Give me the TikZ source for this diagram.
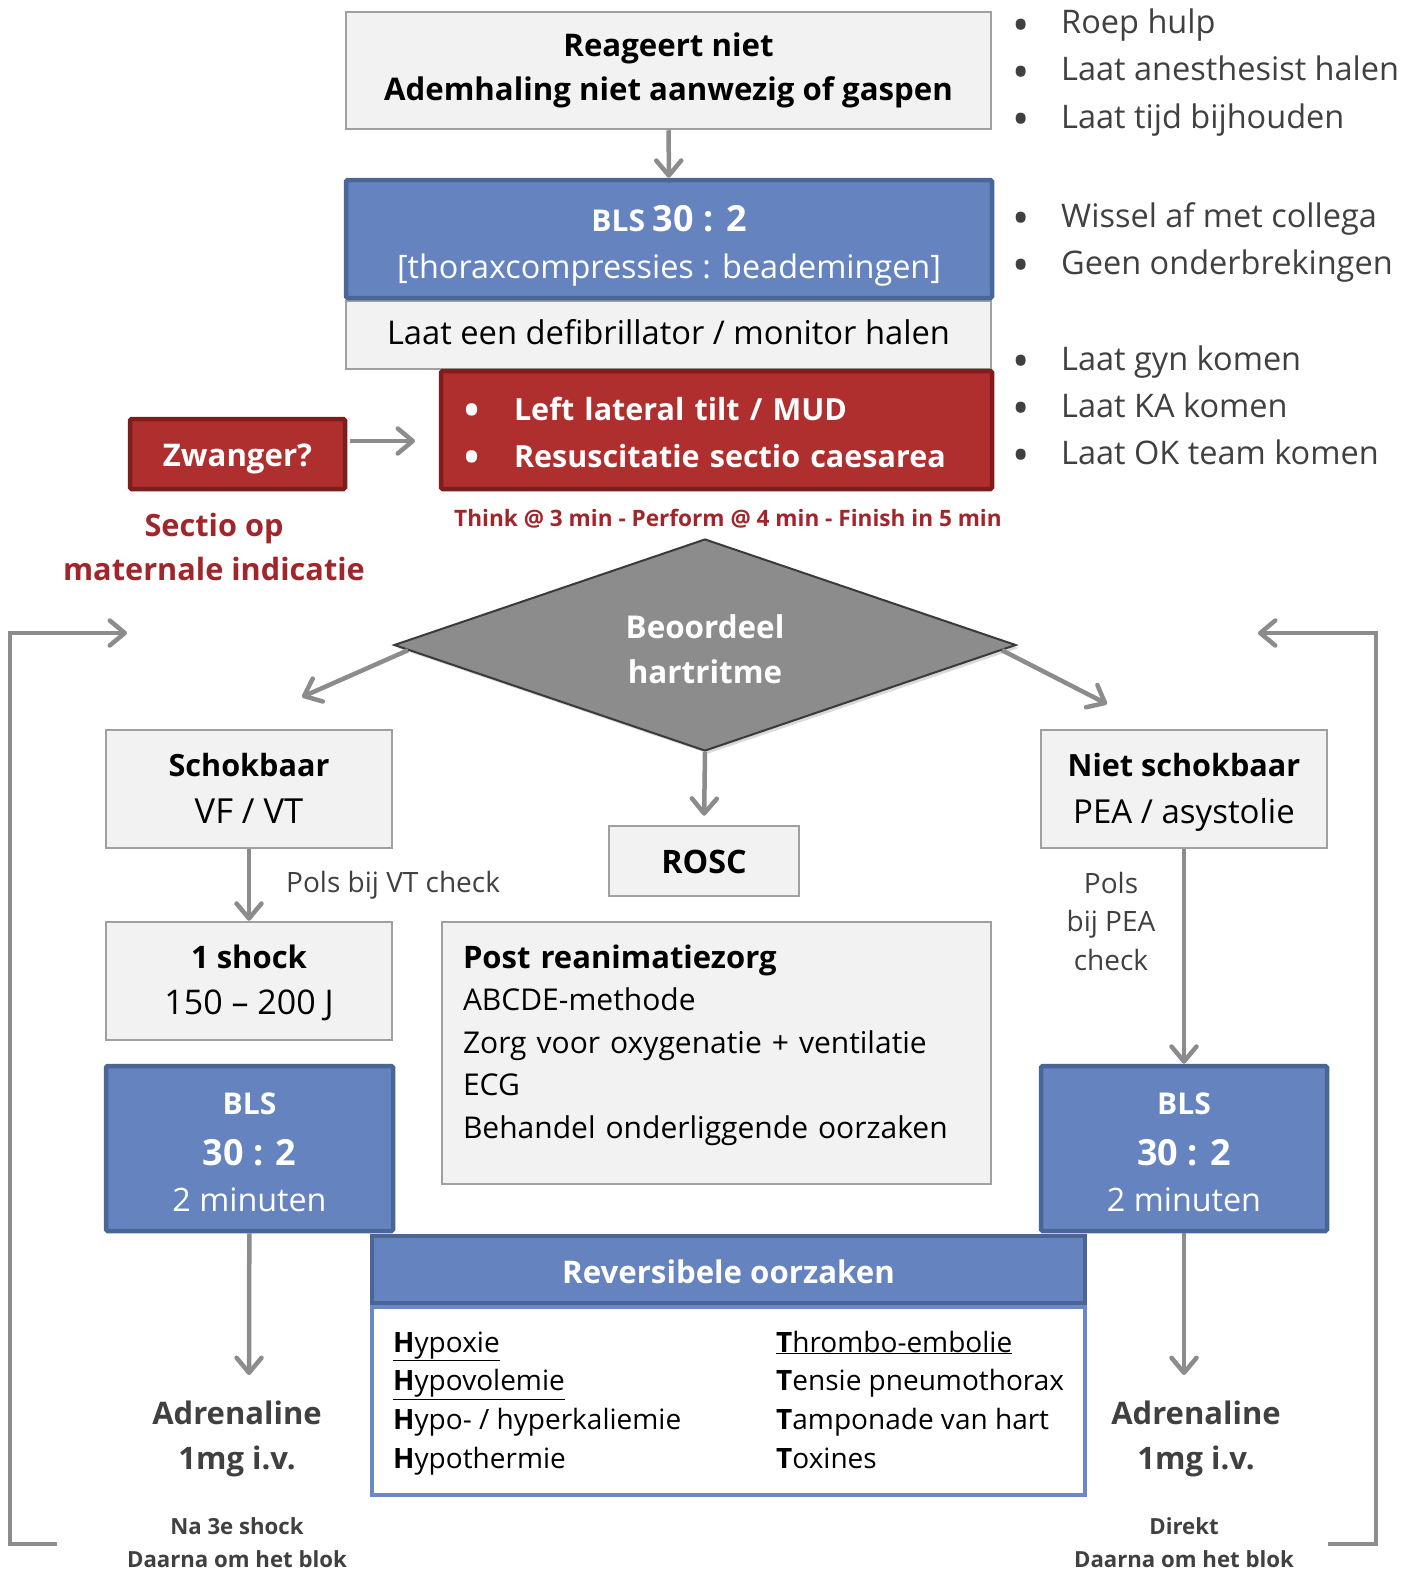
\documentclass[tikz,border=0pt]{standalone}
\usepackage{fontspec}
\setmainfont{Open Sans}
\usetikzlibrary{arrows.meta,shapes.geometric,shadows}

\definecolor{boxfill}{HTML}{F2F2F2}
\definecolor{boxline}{HTML}{A0A0A0}
\definecolor{bluefill}{HTML}{6583BF}
\definecolor{blueline}{HTML}{4A6597}
\definecolor{redfill}{HTML}{AF2E2E}
\definecolor{redline}{HTML}{7F1D1D}
\definecolor{darkred}{HTML}{A1262B}
\definecolor{arrowgray}{HTML}{8C8C8C}
\definecolor{txtgray}{HTML}{404040}
\definecolor{diafill}{HTML}{8C8C8C}
\definecolor{dialine}{HTML}{3A3A3A}
\definecolor{revline}{HTML}{6A88C4}

\newcommand{\fsz}[2]{\fontsize{#1}{#2}\selectfont}
% struts: top height / bottom depth
\newcommand{\tS}[1]{\rule{0pt}{#1pt}}
\newcommand{\bS}[1]{\rule[-#1pt]{0pt}{#1pt}}
\newcommand{\bigbul}{\raisebox{-7.5pt}{\fontsize{46}{46}\selectfont\textbullet}}
\newcommand{\redbul}{\raisebox{-4pt}{\fontsize{40}{40}\selectfont\textbullet}}
\newcommand{\mybul}[2]{\makebox[#1][r]{\redbul\hspace{#2}}}

\begin{document}
\begin{tikzpicture}[x=1pt,y=-1pt,
  graybox/.style={draw=boxline, fill=boxfill, line width=2.5pt, inner sep=0pt, align=center, text=black},
  bluebox/.style={draw=blueline, fill=bluefill, line width=4.5pt, rounded corners=1.5pt, inner sep=0pt, align=center, text=white},
  redbox/.style={draw=redline, fill=redfill, line width=4.5pt, rounded corners=1.5pt, inner sep=0pt, align=center, text=white},
  conn/.style={draw=arrowgray, line width=4.5pt, -{Straight Barb[length=15pt,width=25pt,round]}},
  note/.style={text=txtgray, inner sep=0pt},
  blist/.style={note, anchor=base west, font=\fsz{32.5}{36}},
]
\useasboundingbox (0,0) rectangle (1416,1571);

% ---------- top part ----------
\node[graybox, minimum width=645pt, minimum height=117pt, font=\fsz{31.2}{43.5}\bfseries] (react) at (668.5,70.5)
  {\tS{28}Reageert niet\\Ademhaling niet aanwezig of gaspen\bS{12}};
\node[graybox, minimum width=645pt, minimum height=68pt, font=\fsz{32.7}{36}] (defib) at (668.5,335)
  {\tS{31}Laat een defibrillator / monitor halen\bS{12}};
\node[bluebox, minimum width=646pt, minimum height=118pt, font=\fsz{32.4}{47}] (bls) at (669,239)
  {\tS{44}{\bfseries\fontsize{30}{47}\selectfont BLS \fontsize{36}{47}\selectfont 30 : 2}\\{[}thoraxcompressies : beademingen{]}\bS{12}};
\node[redbox, minimum width=551pt, minimum height=118pt, text width=531pt, inner xsep=10pt, align=left, font=\fsz{30.5}{47}\bfseries] (tilt) at (716.5,430)
  {\tS{39}\mybul{63pt}{34pt}Left lateral tilt / MUD\\\mybul{63pt}{34pt}Resuscitatie sectio caesarea\bS{12}};
\node[redbox, minimum width=215pt, minimum height=70pt, font=\fsz{31.2}{36}\bfseries] (zw) at (237.5,454) {\tS{37}Zwanger?\bS{12}};

\coordinate (zwa) at (350,441);
\coordinate (zwb) at (415,441);
\draw[conn] (zwa) -- (zwb);
\draw[conn] (react) -- (bls);

\node[text=darkred, align=center, inner sep=0pt, font=\fsz{30.7}{44}\bfseries] (sectio) at (214,547) {Sectio op\\maternale indicatie};
\node[text=darkred, inner sep=0pt, font=\fsz{22.6}{26}\bfseries] (think) at (728,519) {Think @ 3 min - Perform @ 4 min - Finish in 5 min};

% right bullet lists
\foreach \txt/\yy [count=\i] in {Roep hulp/34, Laat anesthesist halen/81, Laat tijd bijhouden/128,
    Wissel af met collega/227, Geen onderbrekingen/274,
    Laat gyn komen/370, Laat KA komen/417, Laat OK team komen/464}
  \node[blist] (bul\i) at (1061,\yy) {\llap{\bigbul\hspace{31pt}}\txt};

% ---------- decision ----------
\node[diamond, aspect=2.9, draw=dialine, fill=diafill, line width=2pt, minimum width=622pt, minimum height=212pt,
      inner sep=0pt, text=white, align=center, font=\fsz{31.4}{45}\bfseries,
      drop shadow={shadow xshift=3pt, shadow yshift=-3pt, opacity=0.3}] (dia) at (705,645) {\tS{43}Beoordeel\\hartritme\bS{12}};

\node[graybox, minimum width=286pt, minimum height=118pt, font=\fsz{30.6}{46.3}] (schok) at (249,789)
  {\tS{34}\textbf{Schokbaar}\\{\fontsize{34.5}{46.3}\selectfont VF / VT}\bS{12}};
\node[graybox, minimum width=190pt, minimum height=70pt, font=\fsz{32.3}{36}\bfseries] (rosc) at (704,861) {\tS{36}ROSC\bS{12}};
\node[graybox, minimum width=286pt, minimum height=118pt, font=\fsz{30.6}{46.3}] (niet) at (1184,789)
  {\tS{34}\textbf{Niet schokbaar}\\{\fontsize{33}{46.3}\selectfont PEA / asystolie}\bS{12}};

\coordinate (dLtip) at (302,697);
\coordinate (dRtip) at (1107,704);
\draw[conn] (dia.181.5) -- (dLtip);
\draw[conn] (dia.359) -- (dRtip);
\draw[conn, shorten >=9pt] (dia.south) -- (rosc.north);

% ---------- shockable branch ----------
\node[graybox, minimum width=286pt, minimum height=118pt, font=\fsz{31}{46}] (shock) at (249,981)
  {\tS{32}\textbf{1 shock}\\{\fontsize{34}{46}\selectfont 150 – 200 J}\bS{12}};
\draw[conn] (schok) -- (shock);
\node[note, anchor=base west, font=\fsz{28}{34}] (polsvt) at (286,892) {Pols bij VT check};

\node[bluebox, minimum width=287pt, minimum height=165pt, font=\fsz{32.3}{46}] (blsL) at (249.5,1148.5)
  {\tS{40}{\bfseries\fontsize{30}{46}\selectfont BLS}\\[5pt]{\bfseries\fontsize{36}{46}\selectfont 30 : 2}\\2 minuten\bS{12}};

% ---------- ROSC ----------
\node[graybox, minimum width=549pt, minimum height=262pt, text width=507pt, inner xsep=21pt, align=left, font=\fsz{30}{42.5}] (post) at (716.5,1053)
  {\tS{30}{\fontsize{31}{42.5}\selectfont\bfseries Post reanimatiezorg}\\ABCDE-methode\\Zorg voor oxygenatie + ventilatie\\ECG\\Behandel onderliggende oorzaken\bS{30}};

% ---------- non-shockable branch ----------
\node[bluebox, minimum width=286pt, minimum height=165pt, font=\fsz{32.3}{46}] (blsR) at (1184,1148.5)
  {\tS{40}{\bfseries\fontsize{30}{46}\selectfont BLS}\\[5pt]{\bfseries\fontsize{36}{46}\selectfont 30 : 2}\\2 minuten\bS{12}};
\draw[conn] (niet) -- (blsR);
\node[note, align=center, font=\fsz{28}{38.5}] (polspea) at (1111,921) {Pols\\bij PEA\\check};

% ---------- reversible causes ----------
\node[draw=revline, fill=white, line width=4.5pt, minimum width=713pt, minimum height=188pt, inner sep=0pt] (revbody) at (728.5,1401) {};
\node[bluebox, rounded corners=0pt, minimum width=713pt, minimum height=67pt, font=\fsz{31.2}{36}\bfseries] (revhead) at (728.5,1269.5) {\tS{39}Reversibele oorzaken\bS{12}};

\foreach \txt [count=\i] in {\underline{\textbf{H}ypoxie}, \underline{\textbf{H}ypovolemie}, \textbf{H}ypo- / hyperkaliemie, \textbf{H}ypothermie}
  \node[anchor=base west, inner sep=0pt, font=\fsz{28}{34}] (revL\i) at (393,{1352+38.7*(\i-1)}) {\txt};
\foreach \txt [count=\i] in {\underline{\textbf{T}hrombo-embolie}, \textbf{T}ensie pneumothorax, \textbf{T}amponade van hart, \textbf{T}oxines}
  \node[anchor=base west, inner sep=0pt, font=\fsz{28}{34}] (revR\i) at (776,{1352+38.7*(\i-1)}) {\txt};

% ---------- adrenaline ----------
\coordinate (adrLtip) at (249,1375);
\coordinate (adrRtip) at (1184,1375);
\draw[conn] (blsL) -- (adrLtip);
\draw[conn] (blsR) -- (adrRtip);
\node[note, align=center, font=\fsz{31}{45}\bfseries] (adrL) at (237,1439) {Adrenaline\\1mg i.v.};
\node[note, align=center, font=\fsz{31}{45}\bfseries] (adrR) at (1196,1439) {Adrenaline\\1mg i.v.};
\node[note, align=center, font=\fsz{22.2}{33}\bfseries] (naL) at (237,1542.5) {Na 3e shock\\Daarna om het blok};
\node[note, align=center, font=\fsz{22.2}{33}\bfseries] (naR) at (1184,1542.5) {Direkt\\Daarna om het blok};

% ---------- loops ----------
\coordinate (lb) at (57,1544);
\coordinate (lc) at (10,633);
\coordinate (lt) at (127,633);
\coordinate (rb) at (1328,1544);
\coordinate (rc) at (1376,633);
\coordinate (rt) at (1258,633);
\draw[conn] (lb) -| (lc) -- (lt);
\draw[conn] (rb) -| (rc) -- (rt);
\end{tikzpicture}
\end{document}
